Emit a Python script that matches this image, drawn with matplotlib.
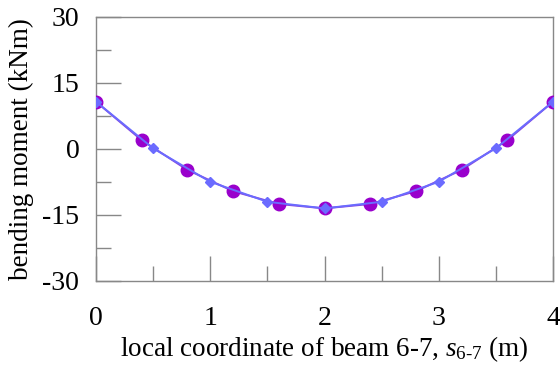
import matplotlib
matplotlib.use("Agg")
import matplotlib.pyplot as plt
from matplotlib.ticker import MultipleLocator

# Bending moment along beam 6-7
s_fine = [0.0, 0.4, 0.8, 1.2, 1.6, 2.0, 2.4, 2.8, 3.2, 3.6, 4.0]
m_fine = [10.75, 2.0, -4.75, -9.6, -12.5, -13.5, -12.5, -9.6, -4.75, 2.0, 10.75]

s_coarse = [0.0, 0.5, 1.0, 1.5, 2.0, 2.5, 3.0, 3.5, 4.0]
m_coarse = [10.75, 0.15, -7.45, -12.0, -13.5, -12.0, -7.45, 0.15, 10.75]

x_ticks = [0, 1, 2, 3, 4]
y_ticks = [-30, -15, 0, 15, 30]

plt.rcParams['font.family'] = ['Liberation Serif', 'DejaVu Serif']
plt.rcParams['mathtext.fontset'] = 'custom'
plt.rcParams['mathtext.it'] = 'Liberation Serif:italic'
plt.rcParams['mathtext.rm'] = 'Liberation Serif'

fig = plt.figure(figsize=(5.6, 3.65), dpi=100)
ax = fig.add_axes([96 / 560, 1 - 281 / 365, (553 - 96) / 560, (281 - 17) / 365])

purple = '#9900CC'
blue = '#6B6BFF'

ax.plot(s_fine, m_fine, color='#8844DD', lw=1.4, marker='o', ms=9,
        mfc=purple, mec=purple, zorder=3)
ax.plot(s_coarse, m_coarse, color=blue, lw=1.4, marker='D', ms=5.5,
        mfc=blue, mec=blue, zorder=4)

ax.set_xlim(0, 4)
ax.set_ylim(-30, 30)
ax.set_xticks(x_ticks)
ax.set_yticks(y_ticks)
ax.set_yticklabels([str(v) for v in y_ticks])
ax.xaxis.set_minor_locator(MultipleLocator(0.5))
ax.yaxis.set_minor_locator(MultipleLocator(7.5))

ax.tick_params(which='major', direction='in', length=18, width=1.0,
               color='#888888', labelsize=20, pad=18)
ax.tick_params(which='minor', direction='in', length=11, width=1.0,
               color='#888888')
ax.tick_params(axis='y', which='major', pad=12)
for sp in ax.spines.values():
    sp.set_color('#888888')
    sp.set_linewidth(1.0)

ax.set_ylabel('bending moment (kNm)', fontsize=19.5, labelpad=6)
ax.set_xlabel(r'local coordinate of beam 6-7, $s_{\mathrm{6\text{-}7}}$ (m)',
              fontsize=19.5, labelpad=2)

fig.savefig('out.png', dpi=100)
